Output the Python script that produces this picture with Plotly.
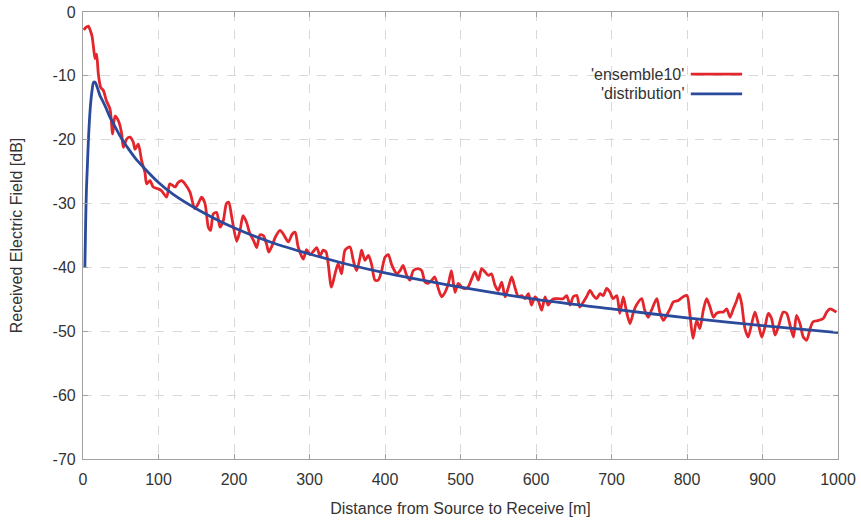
import plotly.graph_objects as go

# ---- data ----
RED_D = [1, 4, 7, 10, 12, 14, 16, 18, 20.3, 23.4, 27, 31, 35.8, 39.3, 42.4, 46.8, 51, 53.4, 57.8, 62.3,
         66.6, 68.9, 73.2, 77.7, 82, 84.3, 88.7, 93, 99.8, 104, 110.8, 115, 122, 126, 130.7, 135, 141.7,
         148, 152.7, 157, 161.6, 166, 169, 172.6, 177, 181.5, 185.8, 190, 193, 197, 203.6, 208, 212,
         216.8, 221, 226, 230, 234.4, 238.8, 243, 246, 250, 255, 261, 265, 272, 277, 281, 285, 291.8,
         296, 300.7, 305, 309.5, 314, 318, 322, 329, 333.8, 338, 342.5, 347, 353.6, 358, 362.4, 367,
         369, 373.5, 378, 382, 386.8, 391, 395.6, 400, 404.4, 408.9, 413, 415.5, 420, 424, 428.7, 433,
         437.5, 444, 448.6, 453, 457, 462, 466, 470.6, 475, 479.5, 484, 488, 492.7, 497, 501.6, 506,
         510, 514.8, 519, 523.6, 528, 532.5, 537, 541, 545.7, 550, 554.6, 559, 563, 567.8, 572, 576.6,
         581, 585.4, 590, 594, 598.7, 603, 607.5, 612, 616, 620.7, 625, 630, 636, 640.6, 645, 649.4,
         654, 658, 662.7, 667, 671.5, 676, 680, 684.8, 689, 693.6, 698, 702, 707, 711, 715.6, 720,
         724.5, 729, 733, 740, 744, 748.7, 753, 760, 764, 768.6, 773, 777.5, 782, 788, 795, 800, 804,
         808, 812.8, 817, 821.6, 826, 830.5, 835, 839, 843.7, 848, 852.6, 857, 861.3, 865.8, 869,
         872.4, 876.8, 881, 885.7, 890, 894.4, 899, 903.3, 907.7, 912, 916.6, 921, 927.5, 932, 936.4,
         941, 945, 949.7, 954, 958.5, 963, 967, 974, 980.5, 985, 989.4, 993.8, 998]
RED_V = [-2.8, -2.4, -2.2, -3.0, -3.8, -5.6, -7.3, -6.6, -9.7, -11.8, -12.3, -13.9, -15.2, -19.1, -16.3,
         -17.0, -18.9, -21.2, -19.9, -19.6, -20.4, -21.5, -20.7, -23.3, -25.1, -26.9, -26.4, -27.4,
         -27.7, -28.0, -29.0, -26.9, -27.4, -26.7, -26.4, -26.9, -28.2, -30.8, -30.0, -29.0, -30.0,
         -33.7, -34.2, -31.6, -31.4, -33.7, -32.7, -30.0, -29.8, -32.1, -35.9, -34.2, -31.9, -33.0,
         -34.7, -35.8, -36.9, -34.9, -35.0, -36.3, -37.6, -36.7, -35.2, -34.2, -34.7, -36.0, -34.8,
         -34.5, -36.8, -38.7, -37.2, -38.0, -37.5, -36.9, -38.2, -37.3, -37.6, -43.1, -41.0, -39.4,
         -41.0, -37.3, -36.8, -38.9, -40.5, -38.4, -37.3, -38.9, -38.1, -39.4, -42.0, -42.0, -40.5,
         -38.4, -38.0, -39.6, -40.6, -41.0, -40.5, -39.7, -41.25, -42.0, -40.5, -40.2, -40.5, -42.3,
         -42.5, -42.0, -41.5, -43.3, -44.6, -43.9, -42.5, -40.5, -43.9, -42.5, -43.1, -43.3, -43.1,
         -41.8, -40.7, -42.0, -40.2, -40.7, -41.25, -41.0, -42.8, -43.6, -42.3, -44.6, -43.3, -41.5,
         -43.1, -44.6, -44.4, -44.9, -44.1, -45.9, -44.6, -45.2, -46.7, -44.6, -45.9, -45.1, -44.9,
         -44.9, -44.9, -44.4, -45.9, -44.6, -44.4, -46.2, -45.4, -44.6, -43.6, -44.4, -44.9, -44.1,
         -44.4, -43.3, -43.9, -44.9, -44.4, -47.2, -44.6, -47.0, -48.8, -47.0, -45.9, -44.9, -46.7,
         -47.8, -46.7, -44.9, -47.0, -48.3, -47.5, -46.5, -45.4, -45.2, -44.6, -44.4, -47.5, -51.1,
         -48.3, -49.6, -46.7, -44.9, -46.2, -47.8, -47.2, -47.0, -47.0, -46.5, -47.8, -46.5, -45.2,
         -44.1, -45.7, -49.6, -50.9, -48.8, -47.0, -48.8, -50.9, -49.3, -47.2, -48.0, -50.6, -49.3,
         -47.0, -47.2, -49.0, -50.9, -47.5, -48.8, -50.9, -51.4, -49.6, -48.5, -48.3, -48.0, -47.0,
         -46.5, -46.7, -47.0]

BLUE_D = [2.5, 3.5, 4.5, 5.7, 7, 8.5, 10, 12, 14, 16, 18, 20, 22.5, 25, 30, 35, 40, 50, 60, 70, 80,
          100, 120, 150, 200, 250, 300, 350, 400, 450, 500, 600, 700, 800, 900, 1000]
BLUE_V = [-40, -33, -28, -24.4, -20.5, -17, -14.5, -12.3, -11.0, -11.0, -11.5, -12.2, -13.1, -13.7,
          -14.9, -16.3, -17.4, -19.6, -21.4, -23.0, -24.3, -26.7, -28.6, -30.8, -33.8, -36.1, -37.9,
          -39.5, -40.85, -42.0, -43.1, -45.0, -46.5, -47.9, -49.1, -50.2]

SERIES_NAMES = ["'ensemble10'", "'distribution'"]
X_TICKS = [0, 100, 200, 300, 400, 500, 600, 700, 800, 900, 1000]
Y_TICKS = [0, -10, -20, -30, -40, -50, -60, -70]
X_TITLE = "Distance from Source to Receive [m]"
Y_TITLE = "Received Electric Field [dB]"

RED = "#e3262b"
BLUE = "#2b4a9c"
FONT = "Liberation Sans, Arial, sans-serif"

fig = go.Figure()
fig.add_trace(go.Scatter(x=RED_D, y=RED_V, mode="lines", name=SERIES_NAMES[0],
                         line=dict(color=RED, width=2.8, shape="spline", smoothing=0.7),
                         showlegend=False))
fig.add_trace(go.Scatter(x=BLUE_D, y=BLUE_V, mode="lines", name=SERIES_NAMES[1],
                         line=dict(color=BLUE, width=2.8, shape="spline", smoothing=0.8),
                         showlegend=False))

axis_common = dict(showgrid=True, gridcolor="#d9d9d9", griddash="dash", gridwidth=1,
                   showline=True, linecolor="#a0a0a0", linewidth=1.2, mirror="ticks",
                   ticks="inside", ticklen=5, tickcolor="#a0a0a0", automargin=False,
                   zeroline=False, tickfont=dict(family=FONT, size=16, color="#333333"))

fig.update_xaxes(range=[0, 1000], tickvals=X_TICKS, ticktext=[str(v) for v in X_TICKS],
                 ticklabelstandoff=6,
                 title=dict(text=X_TITLE, font=dict(family=FONT, size=16, color="#333333"), standoff=15),
                 **axis_common)
fig.update_yaxes(range=[-70, 0], tickvals=Y_TICKS, ticktext=[str(v) for v in Y_TICKS],
                 ticklabelstandoff=3,
                 title=dict(text=Y_TITLE, font=dict(family=FONT, size=16, color="#333333"), standoff=25),
                 **axis_common)

# custom legend in gnuplot style: right-aligned label followed by line sample
legend_items = [(SERIES_NAMES[0], RED, 0.861), (SERIES_NAMES[1], BLUE, 0.817)]
for name, col, yy in legend_items:
    fig.add_annotation(x=0.799, y=yy, xref="paper", yref="paper", text=name, showarrow=False,
                       xanchor="right", yanchor="middle",
                       font=dict(family=FONT, size=16, color="#333333"))
    fig.add_shape(type="line", xref="paper", yref="paper", x0=0.805, x1=0.873, y0=yy, y1=yy,
                  line=dict(color=col, width=2.8))

fig.update_layout(width=861, height=524, margin=dict(l=83, r=23, t=12, b=65),
                  plot_bgcolor="white", paper_bgcolor="white",
                  font=dict(family=FONT, size=16, color="#333333"))

fig.write_html("out.html")
